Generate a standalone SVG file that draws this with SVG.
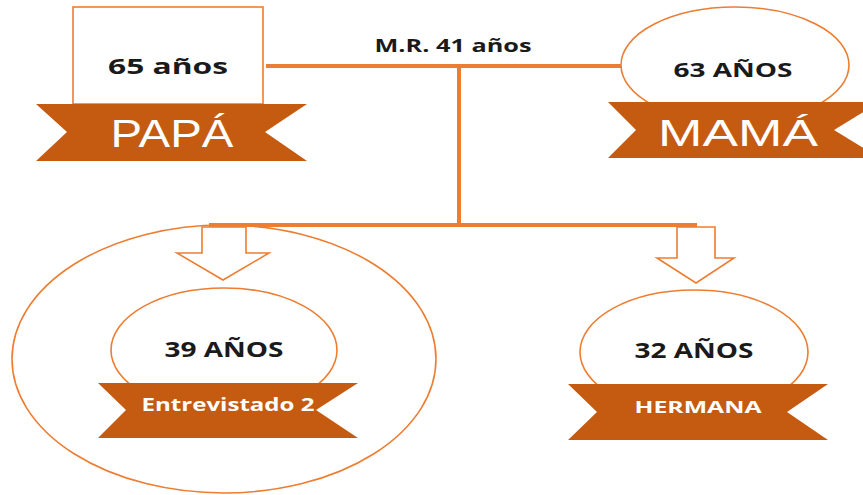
<svg xmlns="http://www.w3.org/2000/svg" width="863" height="495" viewBox="0 0 863 495">
<style>
.ln{stroke:#ED7D31;stroke-width:4;fill:none}
.out{stroke:#ED7D31;stroke-width:1.6;fill:#fff}
.ban{fill:#C55A11}
.age{font-family:"Open Sans","Liberation Sans",sans-serif;font-weight:bold;fill:#1a1a1a;text-anchor:middle}
.bt{font-family:"Open Sans","Liberation Sans",sans-serif;font-weight:bold;fill:#fff;text-anchor:middle}
.big{font-family:"Liberation Sans","DejaVu Sans",sans-serif;fill:#fff;text-anchor:middle}
</style>
<rect width="863" height="495" fill="#fff"/>
<g id="entrevistado-circle">
<ellipse class="out" cx="224" cy="359" rx="212" ry="134"/>
</g>
<g id="connectors">
<line class="ln" x1="266" y1="66" x2="624" y2="66"/>
<line class="ln" x1="459" y1="66" x2="459" y2="225"/>
<line class="ln" x1="209" y1="225" x2="697" y2="225"/>
</g>
<g id="arrow-left">
<polygon class="out" points="202,227 246,227 246,253 269,253 223,280 177,253 202,253"/>
</g>
<g id="arrow-right">
<polygon class="out" points="677,227 715,227 715,258 734,258 696,283 657,258 677,258"/>
</g>
<g id="papa">
<rect class="out" x="73" y="7" width="190" height="97"/>
<text class="age" x="168" y="74" font-size="22" textLength="120" lengthAdjust="spacingAndGlyphs">65 años</text>
<polygon class="ban" points="36,104 307,104 265,132 307,161 36,161 67,132"/>
<text class="big" x="172" y="147" font-size="38" textLength="123" lengthAdjust="spacingAndGlyphs">PAPÁ</text>
</g>
<g id="mama">
<ellipse class="out" cx="735" cy="65" rx="114" ry="58"/>
<text class="age" x="733" y="77" font-size="20" textLength="119" lengthAdjust="spacingAndGlyphs">63 AÑOS</text>
<polygon class="ban" points="608,102 880,102 834,130 880,158 608,158 636,130"/>
<text class="big" x="738" y="146" font-size="36" textLength="160" lengthAdjust="spacingAndGlyphs">MAMÁ</text>
</g>
<g id="mr">
<text class="age" x="453" y="52" font-size="17" textLength="157" lengthAdjust="spacingAndGlyphs">M.R. 41 años</text>
</g>
<g id="entrevistado">
<ellipse class="out" cx="224" cy="350" rx="113" ry="62"/>
<text class="age" x="224" y="357" font-size="21" textLength="119" lengthAdjust="spacingAndGlyphs">39 AÑOS</text>
<polygon class="ban" points="98,383 358,383 316,410 358,438 98,438 126,410"/>
<text class="bt" x="228" y="411" font-size="18" textLength="173" lengthAdjust="spacingAndGlyphs">Entrevistado 2</text>
</g>
<g id="hermana">
<ellipse class="out" cx="694" cy="352" rx="114" ry="62"/>
<text class="age" x="694" y="358" font-size="21" textLength="119" lengthAdjust="spacingAndGlyphs">32 AÑOS</text>
<polygon class="ban" points="568,384 828,384 787,412 828,440 568,440 597,412"/>
<text class="bt" x="698" y="413" font-size="16" textLength="127" lengthAdjust="spacingAndGlyphs">HERMANA</text>
</g>
</svg>
